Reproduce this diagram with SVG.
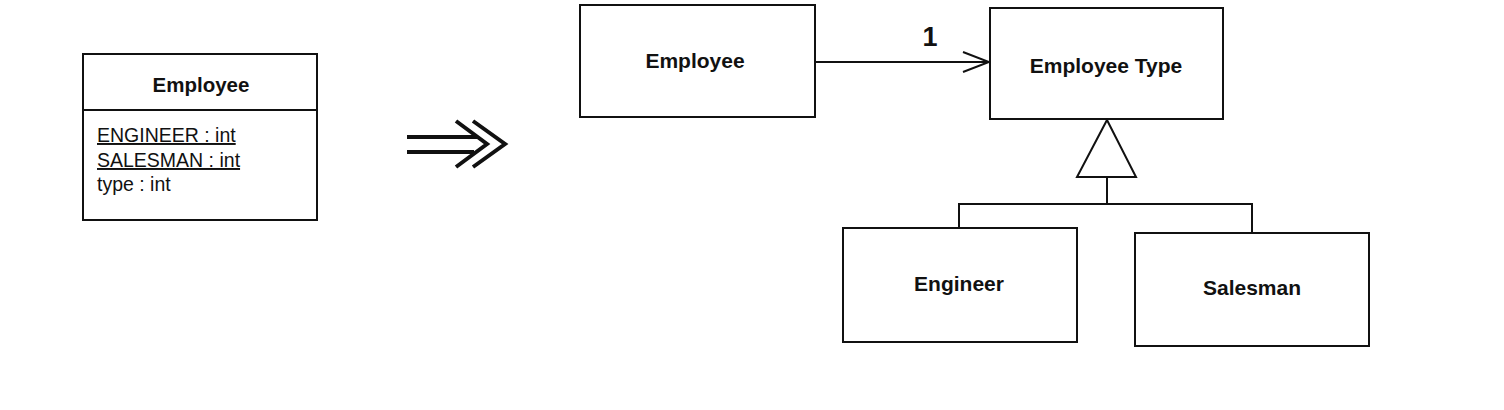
<svg xmlns="http://www.w3.org/2000/svg" width="1504" height="410" viewBox="0 0 1504 410">
<style>
.box{fill:#fff;stroke:#111;stroke-width:2}
.ln{fill:none;stroke:#111;stroke-width:2}
.t{font-family:"Liberation Sans",Arial,sans-serif;font-weight:bold;font-size:21px;fill:#111;text-anchor:middle}
.a{font-family:"Liberation Sans",Arial,sans-serif;font-size:19.5px;fill:#111}
.u{text-decoration:underline}
</style>
<defs>
<marker id="open" markerWidth="30" markerHeight="24" refX="28" refY="12" orient="auto" markerUnits="userSpaceOnUse">
<path d="M2,2 L28,12 L2,22" fill="none" stroke="#111" stroke-width="2"/>
</marker>
</defs>
<rect width="1504" height="410" fill="#fff"/>
<g id="employee-old">
<rect class="box" x="83" y="54" width="234" height="166"/>
<line class="ln" x1="83" y1="110" x2="317" y2="110"/>
<text class="t" x="201" y="92" style="font-size:20.5px">Employee</text>
<text class="a u" x="97" y="142">ENGINEER : int</text>
<text class="a u" x="97" y="167">SALESMAN : int</text>
<text class="a" x="97" y="191">type : int</text>
</g>
<g id="refactor-arrow" fill="none" stroke="#111" stroke-width="4">
<line x1="407" y1="137" x2="478" y2="137"/>
<line x1="407" y1="152" x2="474" y2="152"/>
<path d="M456,121 L487,144 L456,167"/>
<path d="M473,121 L505,144 L473,167"/>
</g>
<g id="employee">
<rect class="box" x="580" y="5" width="235" height="112"/>
<text class="t" x="695" y="68">Employee</text>
</g>
<g id="employee-type">
<rect class="box" x="990" y="8" width="233" height="111"/>
<text class="t" x="1106" y="73">Employee Type</text>
</g>
<g id="engineer">
<rect class="box" x="843" y="228" width="234" height="114"/>
<text class="t" x="959" y="291">Engineer</text>
</g>
<g id="salesman">
<rect class="box" x="1135" y="233" width="234" height="113"/>
<text class="t" x="1252" y="295">Salesman</text>
</g>
<g id="connectors">
<line class="ln" x1="815" y1="62" x2="989" y2="62" marker-end="url(#open)"/>
<text x="930" y="46" style="font-family:'Liberation Sans',Arial,sans-serif;font-size:27px;font-weight:bold;fill:#111;text-anchor:middle">1</text>
<path class="ln" d="M1107,120 L1136,177 L1077,177 Z"/>
<line class="ln" x1="1107" y1="177" x2="1107" y2="204"/>
<path class="ln" d="M959,228 L959,204 L1252,204 L1252,233"/>
</g>
</svg>
